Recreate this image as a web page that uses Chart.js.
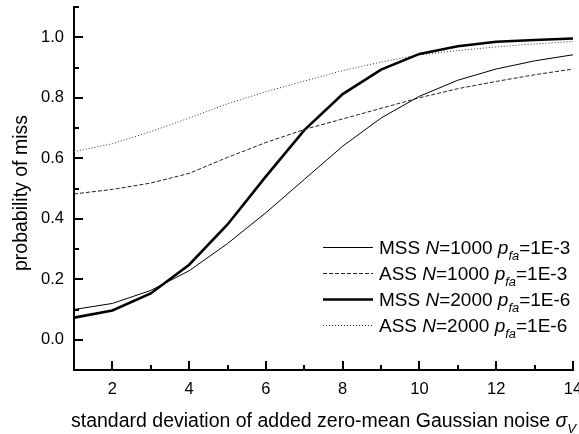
<!DOCTYPE html>
<html>
<head>
<meta charset="utf-8">
<script src="https://cdn.jsdelivr.net/npm/chart.js@4/dist/chart.umd.min.js"></script>
<style>
  html, body { margin: 0; padding: 0; background: #fff; }
  #wrap { width: 579px; height: 434px; }
</style>
</head>
<body>
<div id="wrap"><canvas id="chart" width="579" height="434"></canvas></div>
<script>
'use strict';

// sigma_V, noise std dev
const sigmaValues = [1, 2, 3, 4, 5, 6, 7, 8, 9, 10, 11, 12, 13, 14];

const mss1000 = [0.100, 0.120, 0.163, 0.228, 0.318, 0.420, 0.530, 0.640, 0.733, 0.805, 0.858, 0.895, 0.922, 0.942];
const ass1000 = [0.482, 0.497, 0.518, 0.550, 0.603, 0.652, 0.695, 0.730, 0.765, 0.800, 0.830, 0.854, 0.876, 0.895];
const mss2000 = [0.073, 0.097, 0.153, 0.248, 0.381, 0.540, 0.693, 0.812, 0.893, 0.945, 0.970, 0.985, 0.991, 0.996];
const ass2000 = [0.622, 0.648, 0.688, 0.733, 0.780, 0.820, 0.855, 0.890, 0.918, 0.942, 0.956, 0.968, 0.978, 0.986];

const seriesNames = ['MSS', 'ASS', 'MSS', 'ASS'];
const seriesN     = ['1000', '1000', '2000', '2000'];
const seriesPfa   = ['1E-3', '1E-3', '1E-6', '1E-6'];

const xTickLabels = [2, 4, 6, 8, 10, 12, 14];
const xMinorTicks = [3, 5, 7, 9, 11, 13];
const yTickLabels = [0.0, 0.2, 0.4, 0.6, 0.8, 1.0];
const yMinorTicks = [-0.1, 0.1, 0.3, 0.5, 0.7, 0.9, 1.1];

const FONT = '"Liberation Sans", Arial, sans-serif';

function pts(arr) {
  return sigmaValues.map((x, i) => ({ x, y: arr[i] }));
}

const styles = [
  { borderWidth: 1,   borderDash: [],     borderColor: '#000' },
  { borderWidth: 1,   borderDash: [4, 2], borderColor: '#222' },
  { borderWidth: 2.6, borderDash: [],     borderColor: '#000' },
  { borderWidth: 1,   borderDash: [1, 2], borderColor: '#333' },
];

const datasets = [mss1000, ass1000, mss2000, ass2000].map((arr, i) => ({
  label: `${seriesNames[i]} N=${seriesN[i]} pfa=${seriesPfa[i]}`,
  data: pts(arr),
  pointRadius: 0,
  tension: 0,
  fill: false,
  ...styles[i],
}));

// draws a run of text pieces, some italic and/or subscript
function richText(ctx, parts, x, y, size) {
  parts.forEach(p => {
    const sz = p.sub ? size * 0.68 : size;
    ctx.font = `${p.it ? 'italic ' : ''}${sz}px ${FONT}`;
    ctx.fillText(p.t, x, p.sub ? y + size * 0.32 : y);
    x += ctx.measureText(p.t).width;
  });
  return x;
}

const decor = {
  id: 'decor',
  afterDraw(chart) {
    const ctx = chart.ctx;
    const xs = chart.scales.x, ys = chart.scales.y;
    const area = chart.chartArea;
    ctx.save();
    ctx.strokeStyle = '#000';
    ctx.lineWidth = 2;
    ctx.beginPath();
    // inward tick marks
    xTickLabels.forEach(v => { const p = Math.round(xs.getPixelForValue(v)); ctx.moveTo(p, area.bottom); ctx.lineTo(p, area.bottom - 9); });
    xMinorTicks.forEach(v => { const p = Math.round(xs.getPixelForValue(v)); ctx.moveTo(p, area.bottom); ctx.lineTo(p, area.bottom - 5); });
    yTickLabels.forEach(v => { const p = Math.round(ys.getPixelForValue(v)); ctx.moveTo(area.left, p); ctx.lineTo(area.left + 9, p); });
    yMinorTicks.forEach(v => { const p = Math.round(ys.getPixelForValue(v)); ctx.moveTo(area.left, p); ctx.lineTo(area.left + 5, p); });
    ctx.stroke();

    ctx.fillStyle = '#000';
    ctx.textBaseline = 'alphabetic';
    ctx.textAlign = 'left';

    // x title
    richText(ctx, [
      { t: 'standard deviation of added zero-mean Gaussian noise ' },
      { t: 'σ', it: true },
      { t: 'V', it: true, sub: true },
    ], 71, 427, 19.5);

    // y title
    ctx.save();
    ctx.translate(27, 193);
    ctx.rotate(-Math.PI / 2);
    ctx.textAlign = 'center';
    ctx.font = `19.5px ${FONT}`;
    ctx.fillText('probability of miss', 0, 0);
    ctx.restore();

    // legend
    datasets.forEach((ds, i) => {
      const cy = 247 + i * 26;
      ctx.save();
      ctx.strokeStyle = ds.borderColor;
      ctx.lineWidth = ds.borderWidth;
      ctx.setLineDash(ds.borderDash);
      ctx.beginPath();
      ctx.moveTo(323, cy + 0.5);
      ctx.lineTo(373, cy + 0.5);
      ctx.stroke();
      ctx.restore();
      richText(ctx, [
        { t: seriesNames[i] + ' ' },
        { t: 'N', it: true },
        { t: '=' + seriesN[i] + ' ' },
        { t: 'p', it: true },
        { t: 'fa', it: true, sub: true },
        { t: '=' + seriesPfa[i] },
      ], 379, cy + 7, 19);
    });
    ctx.restore();
  },
};

new Chart(document.getElementById('chart'), {
  type: 'line',
  data: { datasets },
  plugins: [decor],
  options: {
    responsive: false,
    animation: false,
    devicePixelRatio: 1,
    layout: { padding: { top: 7, right: 6, left: 0, bottom: 0 } },
    plugins: { legend: { display: false }, tooltip: { enabled: false } },
    scales: {
      x: {
        type: 'linear',
        min: 1,
        max: 14,
        grid: { display: false, drawTicks: false },
        border: { display: true, width: 2, color: '#000' },
        afterBuildTicks: s => { s.ticks = xTickLabels.map(v => ({ value: v })); },
        ticks: { color: '#000', padding: 10, maxRotation: 0, font: { family: FONT, size: 16.5 } },
        afterFit: s => { s.height = 64; s.paddingLeft = 0; s.paddingRight = 0; },
      },
      y: {
        min: -0.1,
        max: 1.1,
        grid: { display: false, drawTicks: false },
        border: { display: true, width: 2, color: '#000' },
        afterBuildTicks: s => { s.ticks = yTickLabels.map(v => ({ value: v })); },
        ticks: { color: '#000', padding: 10, font: { family: FONT, size: 16.5 }, callback: v => v.toFixed(1) },
        afterFit: s => { s.width = 74; s.paddingTop = 0; s.paddingBottom = 0; },
      },
    },
  },
});
</script>
</body>
</html>
